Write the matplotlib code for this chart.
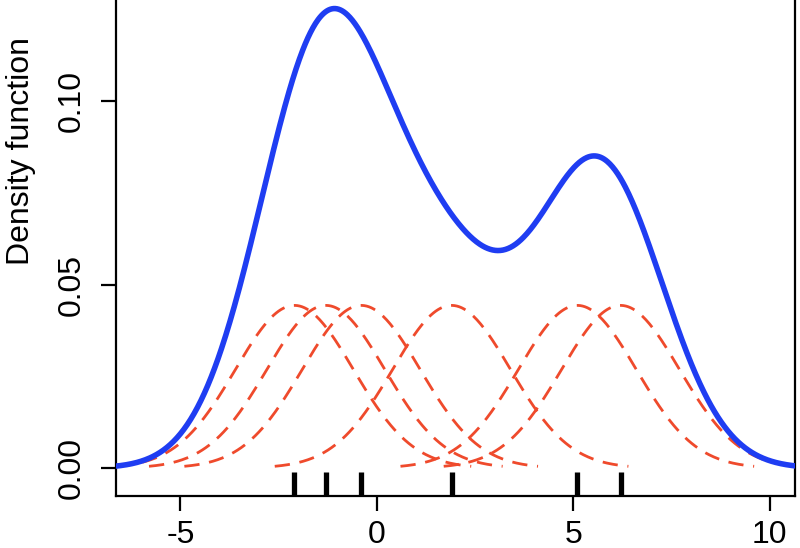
import numpy as np
import matplotlib.pyplot as plt

plt.rcParams['font.family'] = ['Liberation Sans', 'DejaVu Sans']

# sample points and kernel bandwidth (sd)
samples = [-2.1, -1.3, -0.4, 1.9, 5.1, 6.2]
bw = 1.5
xticks = [-5, 0, 5, 10]
yticks = [0.00, 0.05, 0.10]
ytick_labels = ['0.00', '0.05', '0.10']

blue = '#1f3df2'
red = '#ef4a2c'


def kernel(x, mu):
    return np.exp(-0.5 * ((x - mu) / bw) ** 2) / (bw * np.sqrt(2 * np.pi)) / len(samples)


fig = plt.figure(figsize=(8, 5.48), dpi=100)
ax = fig.add_axes([0.145, 0.0949, 0.84875, 0.925])

# individual kernels, each drawn over +-3 sd
for s in samples:
    xs = np.linspace(s - 3 * bw, s + 3 * bw, 300)
    ax.plot(xs, kernel(xs, s), color=red, lw=2.0, dashes=(5.5, 3.5), zorder=2)

# kernel density estimate
xg = np.linspace(-6.7, 10.7, 800)
dens = sum(kernel(xg, s) for s in samples)
ax.plot(xg, dens, color=blue, lw=4.0, zorder=3, solid_capstyle='butt')

# rug
ax.vlines(samples, 0, 0.047, transform=ax.get_xaxis_transform(),
          colors='black', lw=3.8, zorder=4)

ax.set_xlim(-6.64, 10.64)
ax.set_ylim(-0.0076, 0.1305)
ax.set_xticks(xticks)
ax.set_xticklabels([str(t) for t in xticks])
ax.set_yticks(yticks)
ax.set_yticklabels(ytick_labels, rotation=90, va='center')
ax.tick_params(labelsize=23, length=11, width=1.6)
ax.tick_params(axis='x', pad=6)
ax.tick_params(axis='y', pad=10)
for sp in ax.spines.values():
    sp.set_linewidth(1.6)
ax.set_ylabel('Density function', fontsize=23)
ax.yaxis.set_label_coords(-0.118, 0.68)

fig.savefig('out.png', dpi=100)
